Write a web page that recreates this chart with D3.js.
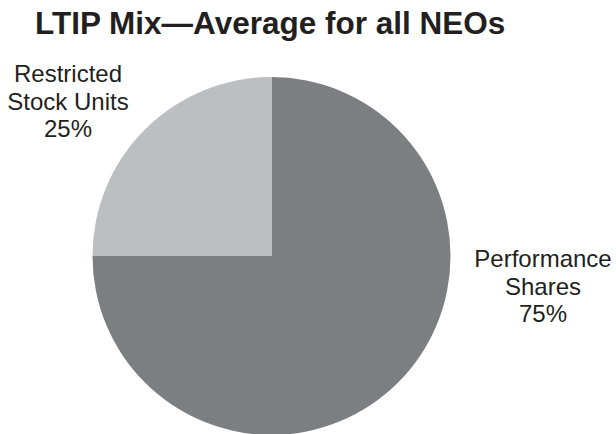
<!DOCTYPE html>
<html>
<head>
<meta charset="utf-8">
<script src="https://cdn.jsdelivr.net/npm/d3@7"></script>
<style>
  body { margin: 0; background: #fff; }
  svg { display: block; }
  text { font-family: "Liberation Sans", Arial, Helvetica, sans-serif; fill: #231f20; }
</style>
</head>
<body>
<script>
// LTIP mix pie, two slices
const categories = ['Performance Shares', 'Restricted Stock Units'];
const values = [75, 25];
const labelLines = [['Performance', 'Shares', '75%'], ['Restricted', 'Stock Units', '25%']];
const colors = ['#7d7e81', '#bdbec1'];

let width = 616;
let height = 434;
let cx = 271.5, cy = 256, r = 179;

let svg = d3.select('body').append('svg')
    .attr('width', width)
    .attr('height', height);

svg.append('text')
    .attr('x', 35)
    .attr('y', 34)
    .style('font-size', '31.5px')
    .style('font-weight', 'bold')
    .text('LTIP Mix\u2014Average for all NEOs');

let pie = d3.pie().sort(null).value((d) => d);
let arc = d3.arc().innerRadius(0).outerRadius(r);
let arcs = pie(values);

let g = svg.append('g').attr('transform', `translate(${cx},${cy})`);
g.selectAll('path')
    .data(arcs)
    .join('path')
        .attr('d', arc)
        .style('fill', (d, i) => colors[i]);

// label positions
let labelPos = [[543, 267], [68, 82]];
labelLines.forEach(function(lines, i) {
    let t = svg.append('text')
        .attr('text-anchor', 'middle')
        .style('font-size', '24px');
    lines.forEach(function(line, j) {
        t.append('tspan')
            .attr('x', labelPos[i][0])
            .attr('y', labelPos[i][1] + j * 27.5)
            .text(line);
    });
});
</script>
</body>
</html>
